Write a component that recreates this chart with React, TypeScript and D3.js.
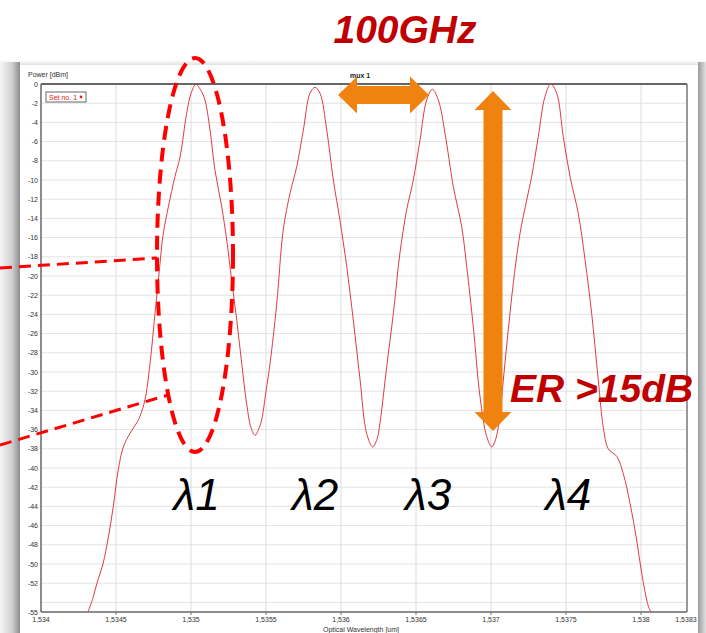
import React from "react";
import * as d3 from "d3";

// ---- data ----
const wavelengths = [
  1.534313, 1.534347, 1.534373, 1.534413, 1.534449, 1.534482, 1.534515, 1.534549,
  1.534593, 1.534638, 1.53466, 1.534693, 1.534727, 1.53476, 1.534787, 1.534815,
  1.534849, 1.534893, 1.534927, 1.534971, 1.535, 1.535033, 1.535067, 1.535093,
  1.535127, 1.53516, 1.535205, 1.535238, 1.535271, 1.535305, 1.535338, 1.535371,
  1.5354, 1.535427, 1.53545, 1.535471, 1.5355, 1.535527, 1.535571, 1.535615,
  1.53566, 1.535705, 1.535749, 1.535793, 1.535827, 1.53586, 1.535905, 1.535949,
  1.535993, 1.536038, 1.536082, 1.536127, 1.536171, 1.536211, 1.53624, 1.53626,
  1.536305, 1.536349, 1.536393, 1.536438, 1.536482, 1.536527, 1.536571, 1.536609,
  1.536649, 1.536693, 1.536749, 1.536805, 1.536838, 1.536882, 1.536927, 1.536971,
  1.537005, 1.537027, 1.537049, 1.537093, 1.537138, 1.537193, 1.537238, 1.537271,
  1.537315, 1.53736, 1.537398, 1.537438, 1.537482, 1.537527, 1.537582, 1.537627,
  1.537671, 1.537715, 1.537749, 1.537782, 1.537839, 1.537882, 1.537927, 1.537971,
  1.538005, 1.538049, 1.538067,
];
const powerDbm = [
  -55, -53.5, -52, -50, -47.2, -44, -40.2, -37.8,
  -36.4, -35.3, -34.6, -32.9, -29.1, -23.9, -19.7, -15.6,
  -12.8, -9.65, -7.6, -3.05, -1, -0.05, -0.7, -1.67,
  -4.8, -9, -12.8, -16.25, -20.4, -24.6, -29.1, -33.3,
  -35.8, -36.6, -36.0, -35, -32, -29.1, -23, -15.2,
  -11.4, -8.6, -4.8, -0.97, -0.35, -0.97, -4.8, -10,
  -14.2, -19, -24.6, -30.8, -36.4, -37.8, -37.0, -35.3,
  -29.4, -23.9, -17.6, -13.1, -10, -5.8, -1.67, -0.55,
  -1.67, -5.1, -10.7, -14.9, -19, -25.3, -32.6, -36.7,
  -37.8, -37.2, -35.7, -29.1, -22.2, -15.6, -12.1, -9.65,
  -5.5, -1.3, 0, -0.97, -5.5, -9.65, -13.5, -18.3,
  -23.9, -30.8, -35.8, -38, -38.8, -40.6, -43.7, -47.5,
  -51, -54.4, -55,
];
const xTickValues = [1.534, 1.5345, 1.535, 1.5355, 1.536, 1.5365, 1.537, 1.5375, 1.538, 1.5383];
const yTickValues = [0, -2, -4, -6, -8, -10, -12, -14, -16, -18, -20, -22, -24, -26, -28, -30,
  -32, -34, -36, -38, -40, -42, -44, -46, -48, -50, -52, -55];
const yGridValues = [-2, -4, -6, -8, -10, -12, -14, -16, -18, -20, -22, -24, -26, -28, -30,
  -32, -34, -36, -38, -40, -42, -44, -46, -48, -50, -52, -54];
const channelLabels = ["λ1", "λ2", "λ3", "λ4"];
const channelLabelWl = [1.535037, 1.535827, 1.536581, 1.537515];

const W = 706, H = 633;
const PL = 41, PR = 686, PT = 84, PB = 612;

export default function App() {
  const x = d3.scaleLinear().domain([1.534, 1.5383]).range([PL, PR]);
  const y = d3.scaleLinear().domain([-55, 0]).range([PB, PT]);
  const pts: [number, number][] = wavelengths.map((w, i) => [w, powerDbm[i]]);
  const line = d3
    .line<[number, number]>()
    .x((d) => x(d[0]))
    .y((d) => y(d[1]))
    .curve(d3.curveCatmullRom.alpha(0.5));
  const fmt = (v: number) => String(v).replace(".", ",");
  const small = { fontFamily: "Liberation Sans, Arial, sans-serif", fontSize: 7, fill: "#333" };

  const orange = "#f0820f";
  const dark = "#c00000";

  // arrow geometry helpers (annotation shapes)
  const hx1 = 338, hx2 = 429, hy = 95, hs = 9, hh = 18.5, hl = 19;
  const hArrow = `M${hx1},${hy} L${hx1 + hl},${hy - hh} L${hx1 + hl},${hy - hs} L${hx2 - hl},${hy - hs} L${hx2 - hl},${hy - hh} L${hx2},${hy} L${hx2 - hl},${hy + hh} L${hx2 - hl},${hy + hs} L${hx1 + hl},${hy + hs} L${hx1 + hl},${hy + hh} Z`;
  const vx = 493, vy1 = 91, vy2 = 431, vs = 9.5, vh = 18.5, vl = 19;
  const vArrow = `M${vx},${vy1} L${vx + vh},${vy1 + vl} L${vx + vs},${vy1 + vl} L${vx + vs},${vy2 - vl} L${vx + vh},${vy2 - vl} L${vx},${vy2} L${vx - vh},${vy2 - vl} L${vx - vs},${vy2 - vl} L${vx - vs},${vy1 + vl} L${vx - vh},${vy1 + vl} Z`;

  return (
    <svg width={W} height={H} style={{ position: "fixed", left: 0, top: 0, background: "#fff" }}>
      <defs>
        <linearGradient id="shL" x1="0" x2="1" y1="0" y2="0">
          <stop offset="0" stopColor="#f6f6f6" />
          <stop offset="0.6" stopColor="#d0d0d0" />
          <stop offset="1" stopColor="#8c8c8c" />
        </linearGradient>
        <linearGradient id="shR" x1="0" x2="1" y1="0" y2="0">
          <stop offset="0" stopColor="#9a9a9a" />
          <stop offset="1" stopColor="#e2e2e2" />
        </linearGradient>
        <linearGradient id="shT" x1="0" x2="0" y1="0" y2="1">
          <stop offset="0" stopColor="#ffffff" />
          <stop offset="1" stopColor="#dcdcdc" />
        </linearGradient>
        <clipPath id="plotClip">
          <rect x={PL} y={PT - 2} width={PR - PL} height={PB - PT + 2} />
        </clipPath>
      </defs>

      {/* screenshot panel and shadows */}
      <rect x={0} y={60} width={706} height={6} fill="url(#shT)" />
      <rect x={0} y={62} width={20} height={H - 62} fill="url(#shL)" />
      <rect x={698} y={62} width={8} height={H - 62} fill="url(#shR)" />
      <rect x={20} y={65} width={678} height={H - 65} fill="#fff" />

      {/* grid */}
      {yGridValues.map((v) => (
        <line key={"gy" + v} x1={PL} x2={PR} y1={y(v)} y2={y(v)} stroke="#e3e3e3" strokeWidth={1} />
      ))}
      {xTickValues.slice(1, -1).map((v) => (
        <line key={"gx" + v} x1={x(v)} x2={x(v)} y1={PT} y2={PB} stroke="#dcdcdc" strokeWidth={1} />
      ))}
      {xTickValues.slice(1, -1).map((v) => (
        <line key={"tx" + v} x1={x(v)} x2={x(v)} y1={PB} y2={PB + 3} stroke="#777" strokeWidth={1} />
      ))}

      {/* frame */}
      <line x1={PL} x2={PR + 1} y1={PT} y2={PT} stroke="#666" strokeWidth={2} />
      <line x1={PR + 1} x2={PR + 1} y1={PT} y2={PB} stroke="#777" strokeWidth={1.5} />
      <line x1={PL} x2={PL} y1={PT} y2={PB} stroke="#666" strokeWidth={1.5} />
      <line x1={PL} x2={PR + 1} y1={PB} y2={PB} stroke="#666" strokeWidth={1.5} />

      {/* tick labels */}
      {yTickValues.map((v) => (
        <text key={"ly" + v} x={38} y={y(v) + 2.5} textAnchor="end" {...small}>
          {String(v)}
        </text>
      ))}
      {xTickValues.map((v) => (
        <text key={"lx" + v} x={x(v)} y={622} textAnchor="middle" {...small}>
          {fmt(v)}
        </text>
      ))}
      <text x={28} y={77} {...small}>Power [dBm]</text>
      <text x={350} y={78} {...small} fontWeight="bold" fill="#222">mux 1</text>
      <text x={323} y={632} {...small}>Optical Wavelength [um]</text>

      {/* legend */}
      <rect x={46} y={92} width={40} height={10} fill="#fff" stroke="#666" strokeWidth={1} />
      <text x={49} y={100} {...small} fill="#e02020">Set no. 1</text>
      <circle cx={81} cy={97} r={1.4} fill="#e02020" />

      {/* spectrum */}
      <path d={line(pts) || ""} fill="none" stroke="#dc3c44" strokeWidth={1} clipPath="url(#plotClip)" />

      {/* annotations */}
      <text x={405} y={43} textAnchor="middle" fontFamily="Liberation Sans, Arial, sans-serif" fontWeight="bold" fontStyle="italic" fontSize={39} fill={dark}>
        100GHz
      </text>
      <ellipse cx={195} cy={255} rx={38} ry={197} fill="none" stroke="#ff0000" strokeWidth={4} strokeDasharray="14 8" />
      <line x1={0} y1={268} x2={157} y2={258} stroke="#ff0000" strokeWidth={3} strokeDasharray="12 7" />
      <line x1={0} y1={445} x2={168} y2={395} stroke="#ff0000" strokeWidth={3} strokeDasharray="12 7" />
      <path d={hArrow} fill={orange} />
      <path d={vArrow} fill={orange} />
      <text x={510} y={402} fontFamily="Liberation Sans, Arial, sans-serif" fontWeight="bold" fontStyle="italic" fontSize={39} fill={dark}>
        ER &gt;15dB
      </text>
      {channelLabels.map((t, i) => (
        <text key={t} x={x(channelLabelWl[i])} y={510} textAnchor="middle" fontFamily="Liberation Sans, Arial, sans-serif" fontStyle="italic" fontSize={44} fill="#000">
          {t}
        </text>
      ))}
    </svg>
  );
}
